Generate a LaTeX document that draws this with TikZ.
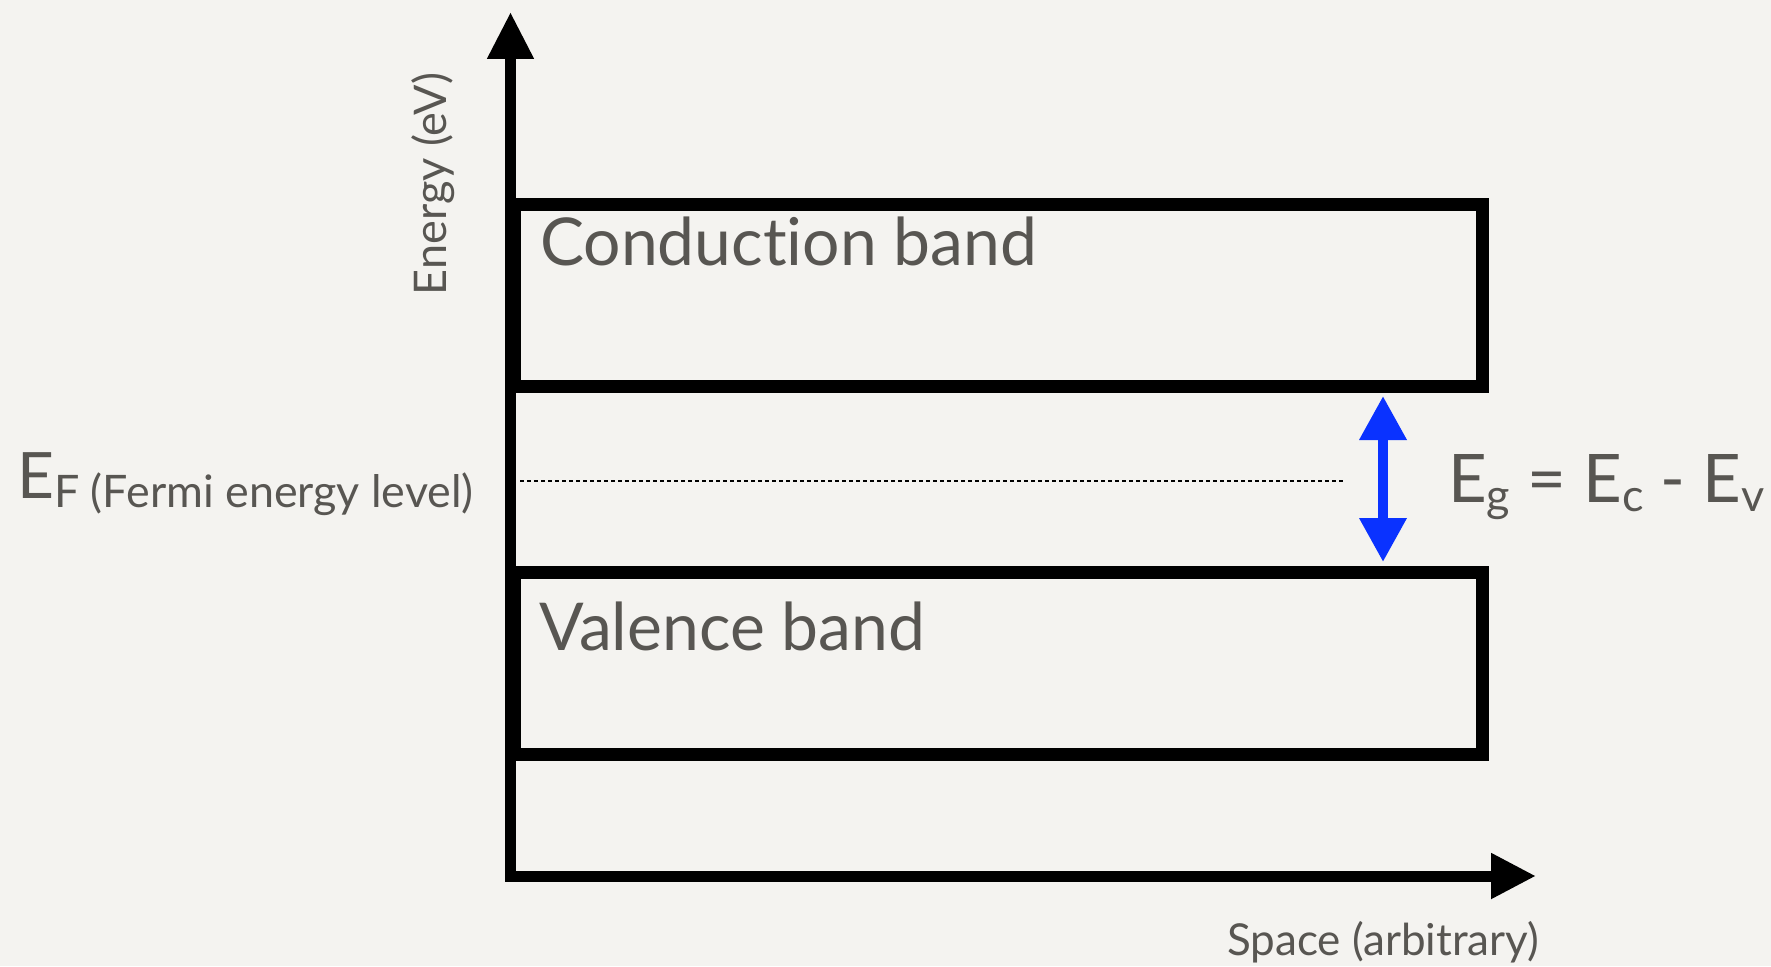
\documentclass[tikz,border=0pt]{standalone}
\usepackage{fontspec}
\setmainfont[Ligatures={NoCommon}]{Lato}
\usetikzlibrary{arrows.meta}
\definecolor{bg}{RGB}{244,243,240}
\definecolor{txt}{RGB}{88,86,82}
\definecolor{gapblue}{RGB}{10,50,255}
\newcommand{\fs}[1]{\fontsize{#1}{#1}\selectfont}
\newcommand{\lowsub}[1]{\raisebox{-9pt}{\fs{45}#1}}
\newcommand{\lowsubs}[1]{\raisebox{-9pt}{\fs{44.8}#1}}
\begin{document}
\begin{tikzpicture}[x=1pt,y=-1pt,
  axisline/.style={line width=11pt,draw=black},
  bandbox/.style={line width=13pt,draw=black,inner sep=0pt,outer sep=0pt,minimum width=968.5pt,minimum height=182.5pt,anchor=north west},
  lbl/.style={inner sep=0pt,text=txt}]
\fill[bg] (0,0) rectangle (1771,966);
\useasboundingbox (0,0) rectangle (1771,966);
% axes
\coordinate (ybot) at (510.5,881);
\coordinate (ytop) at (510.5,12);
\coordinate (xleft) at (505,876);
\coordinate (xright) at (1536,876);
\draw[axisline,-{Triangle[length=47pt,width=44pt]}] (ybot) -- (ytop);
\draw[axisline,-{Triangle[length=45pt,width=43pt]}] (xleft) -- (xright);
% bands
\node[bandbox] (cb) at (514,204) {};
\node[bandbox] (vb) at (514,572) {};
\node[lbl,anchor=base west,font=\fs{66}] (cbl) at (540,265) {Conduc\kern0pt tion band};
\node[lbl,anchor=base west,font=\fs{66}] (vbl) at (539,650) {Valence band};
% Fermi level
\coordinate (fl) at (520,481);
\coordinate (fr) at (1343,481);
\draw[line width=2pt,dash pattern=on 4pt off 3pt] (fl) -- (fr);
% gap arrow
\coordinate (gt) at (1383,396);
\coordinate (gb) at (1383,562);
\draw[gapblue,line width=10pt,{Triangle[length=44pt,width=45pt]}-{Triangle[length=44pt,width=45pt]}] (gt) -- (gb);
% labels
\node[lbl,anchor=base west] (ef) at (17,498) {\fs{64}E\lowsubs{F (Fermi energy level)}};
\node[lbl,anchor=base west] (eg) at (1448,502) {\fs{67}E\lowsub{g} = E\lowsub{c} - E\lowsub{v}};
\node[lbl,anchor=base,rotate=90,font=\fs{45}] (ylab) at (446,184) {Energy (eV)};
\node[lbl,anchor=base,font=\fs{44}] (xlab) at (1383,955) {Space (arbitrary)};
\end{tikzpicture}
\end{document}
